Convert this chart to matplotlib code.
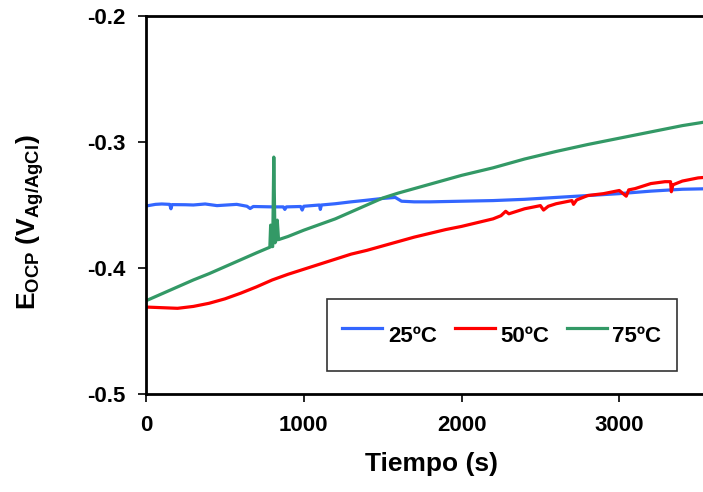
import matplotlib
matplotlib.use('Agg')
import matplotlib.pyplot as plt

plt.rcParams['font.family'] = ['Liberation Sans', 'DejaVu Sans']
plt.rcParams['font.weight'] = 'bold'
plt.rcParams['mathtext.default'] = 'regular'

# open circuit potential vs time, three bath temperatures
t_25 = [0, 60, 100, 150, 158, 165, 250, 300, 375, 450, 575, 640, 660, 680, 800, 870, 880,
        890, 980, 990, 1000, 1100, 1105, 1112, 1200, 1300, 1400, 1500, 1580, 1620, 1700,
        1800, 2000, 2200, 2400, 2600, 2800, 3000, 3200, 3400, 3600]
e_25 = [-0.3508, -0.3495, -0.3492, -0.3495, -0.3530, -0.3497, -0.3498, -0.3500, -0.3492,
        -0.3505, -0.3495, -0.3510, -0.3528, -0.3512, -0.3515, -0.3515, -0.3535, -0.3515,
        -0.3512, -0.3540, -0.3510, -0.3500, -0.3535, -0.3500, -0.3490, -0.3475, -0.3462,
        -0.3448, -0.3440, -0.3470, -0.3475, -0.3475, -0.3470, -0.3465, -0.3455, -0.3440,
        -0.3425, -0.3410, -0.3390, -0.3375, -0.3370]

t_50 = [0, 100, 200, 300, 400, 500, 600, 700, 800, 900, 1000, 1100, 1200, 1300, 1400,
        1500, 1600, 1700, 1800, 1900, 2000, 2100, 2200, 2250, 2280, 2300, 2400, 2500, 2520,
        2550, 2600, 2700, 2710, 2730, 2800, 2900, 3000, 3044, 3060, 3100, 3200, 3290, 3325,
        3330, 3340, 3400, 3500, 3600]
e_50 = [-0.4310, -0.4315, -0.4320, -0.4305, -0.4280, -0.4245, -0.4200, -0.4150, -0.4095,
        -0.4050, -0.4010, -0.3970, -0.3930, -0.3890, -0.3860, -0.3825, -0.3790, -0.3755,
        -0.3725, -0.3695, -0.3670, -0.3640, -0.3610, -0.3585, -0.3550, -0.3570, -0.3530,
        -0.3505, -0.3540, -0.3510, -0.3490, -0.3465, -0.3495, -0.3460, -0.3425, -0.3410,
        -0.3385, -0.3430, -0.3380, -0.3370, -0.3330, -0.3315, -0.3315, -0.3395, -0.3340,
        -0.3310, -0.3285, -0.3275]

t_75 = [0, 100, 200, 300, 400, 500, 600, 700, 785, 790, 795, 803, 810, 818, 825, 832, 840,
        900, 1000, 1100, 1200, 1300, 1400, 1500, 1600, 1700, 1800, 1900, 2000, 2200, 2400,
        2600, 2800, 3000, 3200, 3400, 3600]
e_75 = [-0.4260, -0.4205, -0.4150, -0.4095, -0.4045, -0.3990, -0.3935, -0.3880, -0.3835,
        -0.3660, -0.3830, -0.3830, -0.3120, -0.3800, -0.3780, -0.3620, -0.3775, -0.3750,
        -0.3700, -0.3655, -0.3610, -0.3555, -0.3500, -0.3445, -0.3405, -0.3370, -0.3335,
        -0.3300, -0.3265, -0.3205, -0.3135, -0.3075, -0.3020, -0.2970, -0.2920, -0.2870,
        -0.2830]

labels = ['25ºC', '50ºC', '75ºC']
colors = ['#3366FF', '#FF0000', '#339966']

fig = plt.figure(figsize=(7.03, 4.92), dpi=100)
ax = fig.add_axes([0.2077, 0.1992, 0.8976, 0.7683])

ax.plot(t_25, e_25, color=colors[0], lw=2.3, label=labels[0])
ax.plot(t_50, e_50, color=colors[1], lw=2.3, label=labels[1])
ax.plot(t_75, e_75, color=colors[2], lw=2.3, label=labels[2])

ax.set_xlim(0, 4000)
ax.set_ylim(-0.5, -0.2)
ax.set_xticks([0, 1000, 2000, 3000])
ax.set_yticks([-0.5, -0.4, -0.3, -0.2])
ax.set_yticklabels(['-0.5', '-0.4', '-0.3', '-0.2'])
ax.tick_params(axis='both', direction='out', length=6, width=1.2, labelsize=16, pad=9)
for side in ['left', 'bottom', 'top']:
    ax.spines[side].set_linewidth(2)
    ax.spines[side].set_color('black')
ax.spines['right'].set_visible(False)

ax.set_xlabel('Tiempo (s)', fontsize=19, fontweight='bold')
ax.xaxis.set_label_coords(0.453, -0.153)
ax.set_ylabel('E$_{OCP}$ (V$_{Ag/AgCl}$)', fontsize=19, fontweight='bold')
ax.yaxis.set_label_coords(-0.158, 0.455)

leg = ax.legend(loc='center', bbox_to_anchor=(0.714, 0.319), bbox_transform=fig.transFigure,
                ncol=3, fontsize=16, frameon=True, fancybox=False, handlelength=1.8,
                handleheight=2.4, handletextpad=0.25, columnspacing=0.8, borderpad=0.7)
leg.get_frame().set_edgecolor('black')
leg.get_frame().set_linewidth(1.2)

plt.savefig('out.png', dpi=100)
